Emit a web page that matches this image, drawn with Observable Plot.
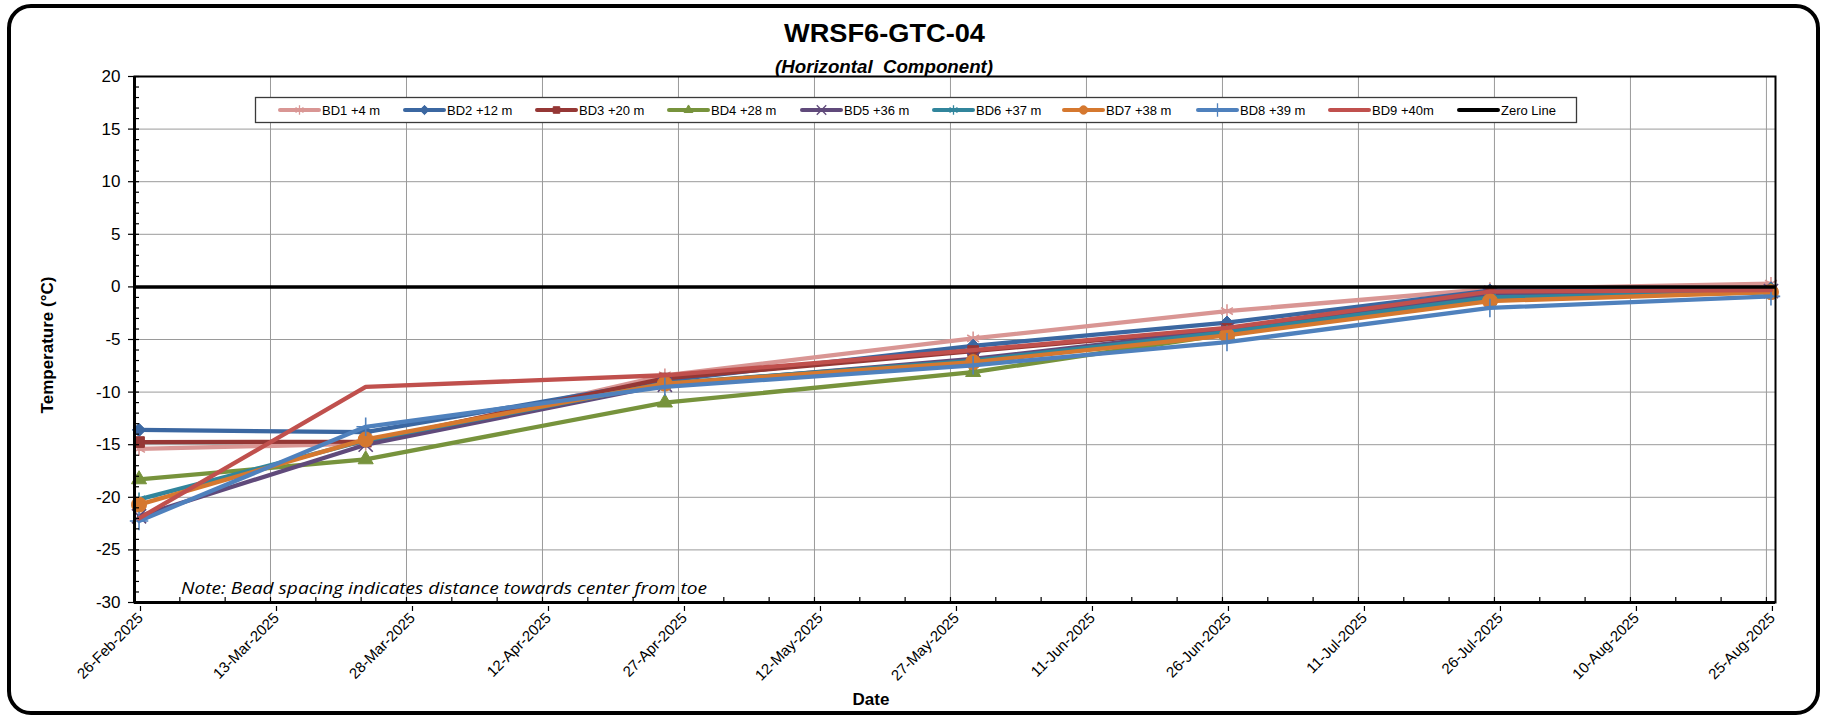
<!DOCTYPE html>
<html>
<head>
<meta charset="utf-8">
<script src="https://cdn.jsdelivr.net/npm/d3@7"></script>
<script src="https://cdn.jsdelivr.net/npm/@observablehq/plot@0.6"></script>
<style>
  html, body { margin: 0; padding: 0; background: #fff; }
  #wrap { position: relative; width: 1824px; height: 716px; overflow: hidden; font-family: "Liberation Sans", Arial, sans-serif; }
  #frame { position: absolute; left: 7px; top: 4px; width: 1813px; height: 711px; box-sizing: border-box; border: 4px solid #000; border-radius: 24px; }
  #chart { position: absolute; left: 0; top: 0; }
  #over { position: absolute; left: 0; top: 0; pointer-events: none; }
</style>
</head>
<body>
<div id="wrap">
  <div id="chart"></div>
  <svg id="over" width="1824" height="716"></svg>
  <div id="frame"></div>
</div>
<script>
// ---------------- data ----------------
const titleText = "WRSF6-GTC-04";
const subtitleText = "(Horizontal  Component)";
const yLabelText = "Temperature (°C)";
const xLabelText = "Date";
const noteText = "Note: Bead spacing indicates distance towards center from toe";

const readingDates = ["2025-02-26T12:00Z", "2025-03-23T12:00Z", "2025-04-25T12:00Z", "2025-05-29T12:00Z", "2025-06-26T12:00Z", "2025-07-25T12:00Z", "2025-08-25T12:00Z"];

const seriesNames = ["BD1 +4 m", "BD2 +12 m", "BD3 +20 m", "BD4 +28 m", "BD5 +36 m", "BD6 +37 m", "BD7 +38 m", "BD8 +39 m", "BD9 +40m"];
const zeroLineName = "Zero Line";

const BD1 = [-15.4, -14.9, -8.4, -4.9, -2.3, -0.2, 0.3];
const BD2 = [-13.6, -13.8, -8.9, -5.6, -3.4, -0.35, -0.15];
const BD3 = [-14.75, -14.7, -8.7, -6.1, -4.0, -0.5, -0.35];
const BD4 = [-18.3, -16.4, -11.0, -8.1, -4.5, -1.1, -0.5];
const BD5 = [-21.8, -15.0, -9.3, -6.85, -4.1, -0.75, -0.4];
const BD6 = [-20.2, -14.6, -9.2, -7.0, -4.3, -1.0, -0.5];
const BD7 = [-20.7, -14.5, -9.2, -7.15, -4.6, -1.35, -0.5];
const BD8 = [-22.25, -13.3, -9.5, -7.45, -5.25, -2.0, -0.9];
const BD9 = [-22.0, -9.5, -8.4, -6.0, -3.9, -0.45, -0.3];
const zeroLine = [0];

const xTickLabels = ["26-Feb-2025", "13-Mar-2025", "28-Mar-2025", "12-Apr-2025", "27-Apr-2025", "12-May-2025", "27-May-2025", "11-Jun-2025", "26-Jun-2025", "11-Jul-2025", "26-Jul-2025", "10-Aug-2025", "25-Aug-2025"];
const yTickLabels = ["-30", "-25", "-20", "-15", "-10", "-5", "0", "5", "10", "15", "20"];

// ---------------- styles ----------------
const seriesValues = [BD1, BD2, BD3, BD4, BD5, BD6, BD7, BD8, BD9];
const seriesStyles = [
  { color: "#d99694", symbol: "asterisk", filled: false, r: 6.5, d3sym: d3.symbolAsterisk },
  { color: "#3b67a1", symbol: "diamond2", filled: true, r: 6, d3sym: d3.symbolDiamond2 },
  { color: "#953735", symbol: "square2", filled: true, r: 6.8, d3sym: d3.symbolSquare2 },
  { color: "#77933c", symbol: "triangle2", filled: true, r: 7.2, d3sym: d3.symbolTriangle2 },
  { color: "#604a7b", symbol: "times", filled: false, r: 6.5, d3sym: d3.symbolTimes },
  { color: "#31859c", symbol: "asterisk", filled: false, r: 6.5, d3sym: d3.symbolAsterisk },
  { color: "#d5782f", symbol: "circle", filled: true, r: 7.5, d3sym: d3.symbolCircle },
  { color: "#4f81bd", symbol: "plus", filled: false, r: 6, d3sym: d3.symbolPlus },
  { color: "#c0504d", symbol: null, filled: false, r: 0, d3sym: null }
];

// ---------------- derived ----------------
const dates = readingDates.map(s => new Date(s));
const parseTick = d3.utcParse("%d-%b-%Y");
const xTicks = xTickLabels.map(parseTick);
const xMin = xTicks[0];
const xMax = d3.utcDay.offset(xTicks[xTicks.length - 1], 1);
const yTicks = yTickLabels.map(Number);
const xMinor = d3.range(0, 181, 5).map(k => d3.utcDay.offset(xMin, k));
const yMinor = d3.range(yTicks[0], yTicks[yTicks.length - 1] + 1, 1);
const tickFmt = d3.utcFormat("%d-%b-%Y");

const marks = [
  Plot.gridX(xTicks, { stroke: "#9a9a9a", strokeOpacity: 1, strokeWidth: 1 }),
  Plot.gridY(yTicks, { stroke: "#9a9a9a", strokeOpacity: 1, strokeWidth: 1 })
];

seriesValues.forEach((vals, si) => {
  const st = seriesStyles[si];
  const data = dates.map((d, i) => ({ date: d, value: vals[i], series: seriesNames[si] }));
  marks.push(Plot.line(data, { x: "date", y: "value", stroke: st.color, strokeWidth: 4.3, strokeLinejoin: "round", strokeLinecap: "round" }));
  if (st.symbol) {
    marks.push(Plot.dot(data, {
      x: "date", y: "value", symbol: st.symbol, r: st.r,
      fill: st.filled ? st.color : "none", stroke: st.color, strokeWidth: st.filled ? 1 : 1.6
    }));
  }
});

marks.push(Plot.ruleY(zeroLine, { stroke: "#000", strokeWidth: 3.5 }));

// axes
marks.push(Plot.axisX(xMinor, { anchor: "bottom", tickSize: -5, tickFormat: () => "", label: null, strokeWidth: 1.2 }));
marks.push(Plot.axisY(yMinor, { anchor: "left", tickSize: -5, tickFormat: () => "", label: null, strokeWidth: 1.2 }));
marks.push(Plot.axisX(xTicks, { anchor: "bottom", tickSize: 5, tickPadding: 4, tickRotate: -45, tickFormat: tickFmt, fontSize: 15, label: null, dx: 6, dy: 4, strokeWidth: 1.2 }));
marks.push(Plot.axisY(yTicks, { anchor: "left", tickSize: 6, tickPadding: 8, tickFormat: d => String(d), fontSize: 17, label: null, strokeWidth: 1.2 }));
marks.push(Plot.frame({ stroke: "#000", strokeWidth: 2 }));
marks.push(Plot.ruleX([xMin], { stroke: "#000", strokeWidth: 3 }));
marks.push(Plot.ruleY([yTicks[0]], { stroke: "#000", strokeWidth: 3 }));

const chart = Plot.plot({
  width: 1824,
  height: 716,
  marginLeft: 134,
  marginRight: 49,
  marginTop: 76,
  marginBottom: 114,
  style: { fontFamily: "'Liberation Sans', Arial, sans-serif", background: "transparent", color: "#000", overflow: "visible" },
  x: { type: "utc", domain: [xMin, xMax], label: null },
  y: { domain: [yTicks[0], yTicks[yTicks.length - 1]], label: null },
  marks
});
document.getElementById("chart").appendChild(chart);

// ---------------- overlay: titles, labels, legend, note ----------------
const over = d3.select("#over");
const FF = "'Liberation Sans', Arial, sans-serif";

over.append("text").text(titleText)
  .attr("x", 884.5).attr("y", 42).attr("text-anchor", "middle")
  .attr("font-family", FF).attr("font-weight", "bold").attr("font-size", 26)
  .attr("textLength", 201).attr("lengthAdjust", "spacingAndGlyphs");

over.append("text").text(subtitleText)
  .attr("x", 884).attr("y", 72.5).attr("text-anchor", "middle")
  .attr("font-family", FF).attr("font-weight", "bold").attr("font-style", "italic").attr("font-size", 18)
  .style("white-space", "pre")
  .attr("textLength", 218).attr("lengthAdjust", "spacingAndGlyphs");

over.append("text").text(yLabelText)
  .attr("transform", "translate(52.5,345) rotate(-90)").attr("text-anchor", "middle")
  .attr("font-family", FF).attr("font-weight", "bold").attr("font-size", 17);

over.append("text").text(xLabelText)
  .attr("x", 871).attr("y", 705).attr("text-anchor", "middle")
  .attr("font-family", FF).attr("font-weight", "bold").attr("font-size", 17);

over.append("text").text(noteText)
  .attr("x", 181).attr("y", 594)
  .attr("font-family", "'Open Sans', 'Noto Sans', sans-serif").attr("font-style", "italic").attr("font-size", 16.5)
  .attr("textLength", 526).attr("lengthAdjust", "spacingAndGlyphs");

// legend
const lg = over.append("g");
lg.append("rect").attr("x", 255.5).attr("y", 97.5).attr("width", 1321).attr("height", 25)
  .attr("fill", "#fff").attr("stroke", "#3a3a3a").attr("stroke-width", 1.3);
const legendX = [280, 405, 537, 669, 802, 934, 1064, 1198, 1330, 1459];
const legendItems = seriesNames.map((n, i) => ({ name: n, st: seriesStyles[i] }))
  .concat([{ name: zeroLineName, st: { color: "#000", symbol: null } }]);
const ly = 110;
legendItems.forEach((it, i) => {
  const x = legendX[i];
  lg.append("line").attr("x1", x).attr("x2", x + 39).attr("y1", ly).attr("y2", ly)
    .attr("stroke", it.st.color).attr("stroke-width", 4).attr("stroke-linecap", "round");
  if (it.st.d3sym) {
    lg.append("path").attr("d", d3.symbol(it.st.d3sym, it.st.filled ? 55 : 60)())
      .attr("transform", `translate(${x + 19.5},${ly})`)
      .attr("fill", it.st.filled ? it.st.color : "none")
      .attr("stroke", it.st.color).attr("stroke-width", it.st.filled ? 1 : 1.3);
  }
  lg.append("text").text(it.name).attr("x", x + 42).attr("y", ly + 4.6)
    .attr("font-family", FF).attr("font-size", 13).attr("fill", "#000");
});
</script>
</body>
</html>
